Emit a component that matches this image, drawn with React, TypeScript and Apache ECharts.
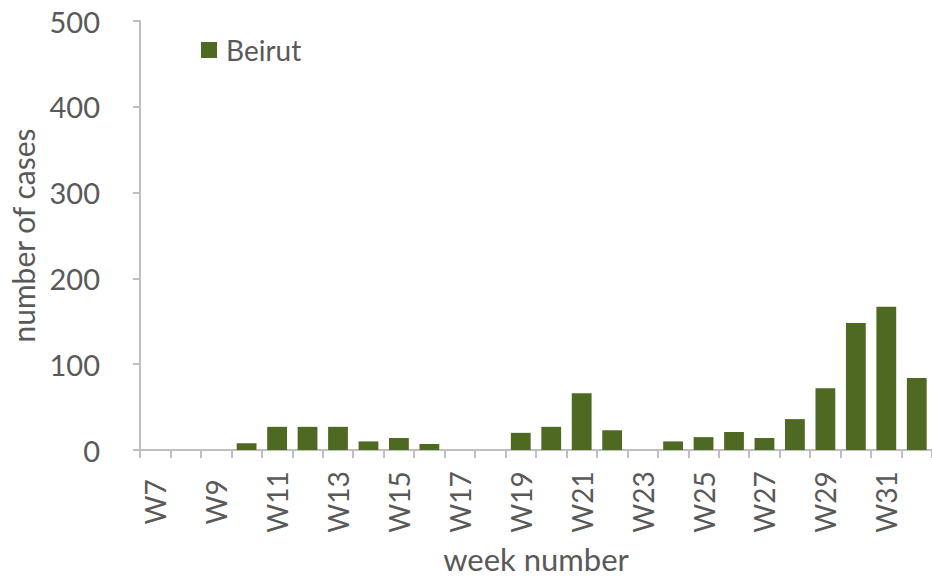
import React, { useEffect, useRef } from "react";
import * as echarts from "echarts";

const weeks = [
  "W7", "W8", "W9", "W10", "W11", "W12", "W13", "W14", "W15", "W16", "W17", "W18", "W19",
  "W20", "W21", "W22", "W23", "W24", "W25", "W26", "W27", "W28", "W29", "W30", "W31", "W32",
];
const beirut = [0, 0, 0, 8, 27, 27, 27, 10, 14, 7, 0, 0, 20, 27, 66, 23, 0, 10, 15, 21, 14, 36, 72, 148, 167, 84];
const yTicks = [0, 100, 200, 300, 400, 500];

const FONT = "Lato, 'Open Sans', sans-serif";
const TEXT = "#595959";
const AXIS = "#bfbfbf";

export default function App() {
  const ref = useRef<HTMLDivElement>(null);
  useEffect(() => {
    if (!ref.current) return;
    const chart = echarts.init(ref.current, null, { renderer: "svg" });
    chart.setOption({
      animation: false,
      backgroundColor: "#ffffff",
      textStyle: { fontFamily: FONT },
      legend: {
        data: ["Beirut"],
        left: 196,
        top: 31,
        itemWidth: 16,
        itemHeight: 16,
        icon: "rect",
        textStyle: { fontFamily: FONT, fontSize: 28, color: TEXT, padding: [0, 0, 0, 4] },
      },
      grid: { left: 126, top: 21, width: 806, height: 429, containLabel: false },
      xAxis: {
        type: "category",
        data: weeks,
        name: "week number",
        nameLocation: "middle",
        nameGap: 93,
        nameTextStyle: { fontFamily: FONT, fontSize: 31, color: TEXT },
        axisLine: { show: true, lineStyle: { color: AXIS, width: 2 } },
        axisTick: { show: true, interval: 0, length: 8, lineStyle: { color: AXIS, width: 2 } },
        axisLabel: {
          interval: 1,
          rotate: 90,
          align: "center",
          margin: 52,
          fontFamily: FONT,
          fontSize: 28,
          color: TEXT,
        },
        splitLine: { show: false },
      },
      yAxis: {
        type: "value",
        min: yTicks[0],
        max: yTicks[yTicks.length - 1],
        interval: 100,
        name: "number of cases",
        nameLocation: "middle",
        nameGap: 102,
        nameTextStyle: { fontFamily: FONT, fontSize: 30, color: TEXT },
        axisLine: { show: true, lineStyle: { color: AXIS, width: 2 } },
        axisTick: { show: true, length: 7, lineStyle: { color: AXIS, width: 2 } },
        axisLabel: { margin: 40, fontFamily: FONT, fontSize: 29, color: TEXT },
        splitLine: { show: false },
      },
      series: [
        {
          name: "Beirut",
          type: "bar",
          data: beirut,
          barCategoryGap: "35%",
          itemStyle: { color: "#4e6a22" },
        },
      ],
    });
    return () => chart.dispose();
  }, []);
  return <div ref={ref} style={{ width: 932, height: 582, position: "fixed", left: 0, top: 0 }} />;
}
